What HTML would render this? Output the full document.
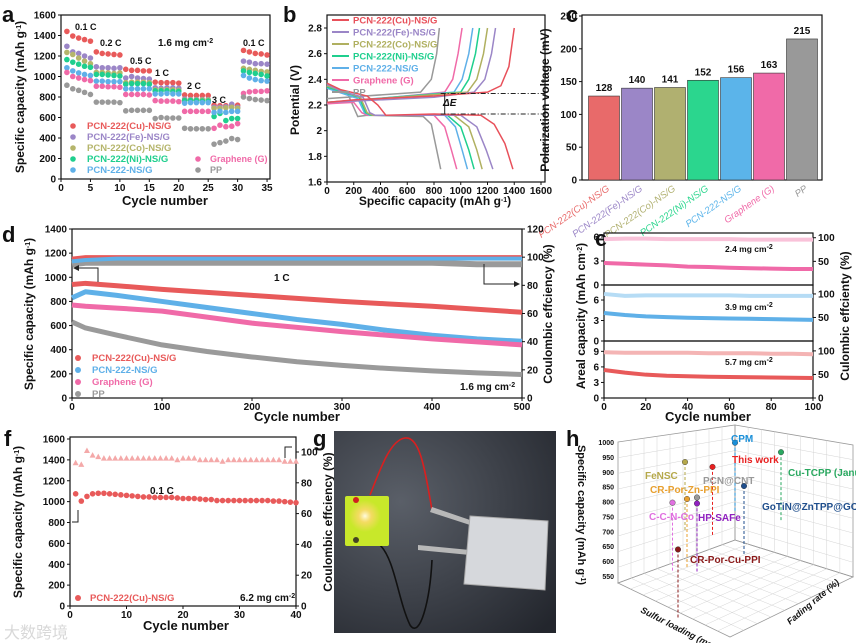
<!DOCTYPE html>
<html><head><meta charset="utf-8"><style>
html,body{margin:0;padding:0;background:#fff;}
svg{display:block;font-family:"Liberation Sans","Noto Sans CJK SC",sans-serif;}
</style></head><body>
<svg id="fig" width="856" height="643" viewBox="0 0 856 643" xmlns="http://www.w3.org/2000/svg"></svg>
<script>
// ---------- DATA ----------
const aCycles=[1,2,3,4,5,6,7,8,9,10,11,12,13,14,15,16,17,18,19,20,21,22,23,24,25,26,27,28,29,30,31,32,33,34,35];
const aCu=[1440,1395,1375,1360,1345,1240,1225,1220,1215,1210,1070,1060,1060,1055,1055,945,940,940,940,935,820,815,815,815,815,720,715,715,720,720,1255,1240,1225,1220,1210];
const aFe=[1295,1240,1225,1200,1180,1095,1085,1085,1080,1085,985,1000,985,980,975,890,885,890,890,885,780,775,775,775,775,700,700,705,730,700,1150,1140,1125,1125,1120];
const aCo=[1235,1215,1180,1150,1125,1040,1040,1035,1030,1035,940,945,945,945,940,870,870,870,870,865,770,770,770,770,770,690,690,695,700,690,1080,1070,1060,1050,1045];
const aNi=[1165,1140,1120,1100,1090,1020,1020,1015,1010,1005,925,930,930,930,925,860,860,860,855,855,765,765,765,760,760,610,640,570,590,590,1055,1040,1030,1020,1005];
const a222=[1085,1055,1035,1020,1010,955,955,950,950,950,880,880,880,880,880,830,830,835,830,830,740,745,745,745,745,650,660,650,660,660,1010,985,970,960,955];
const aG=[1040,1000,985,970,960,905,905,900,900,895,825,825,825,825,820,765,760,760,760,755,660,660,660,660,660,495,525,510,515,540,835,850,855,855,860];
const aPP=[915,880,865,845,825,750,750,750,750,745,665,670,670,670,670,590,600,595,595,595,495,490,490,490,490,340,355,370,395,385,800,785,775,770,765];
const aXTicks=[0,5,10,15,20,25,30,35];
const aYTicks=[0,200,400,600,800,1000,1200,1400,1600];

const bDis={
 Cu:[[0,2.37],[100,2.32],[300,2.27],[380,2.2],[440,2.12],[800,2.13],[1150,2.12],[1250,2.05],[1330,1.9],[1390,1.7]],
 Fe:[[0,2.36],[100,2.31],[270,2.26],[320,2.14],[360,2.12],[1000,2.12],[1120,2.03],[1190,1.85],[1240,1.7]],
 Co:[[0,2.35],[250,2.26],[300,2.14],[340,2.12],[950,2.12],[1060,2.03],[1120,1.85],[1160,1.7]],
 Ni:[[0,2.34],[240,2.26],[290,2.14],[330,2.12],[900,2.12],[1000,2.03],[1060,1.85],[1100,1.7]],
 N222:[[0,2.33],[230,2.25],[280,2.14],[320,2.12],[880,2.12],[960,2.03],[1010,1.85],[1050,1.7]],
 G:[[0,2.21],[200,2.22],[260,2.14],[300,2.12],[800,2.12],[880,2.03],[930,1.85],[970,1.7]],
 PP:[[0,2.35],[150,2.3],[230,2.11],[300,2.12],[720,2.11],[780,2.05],[820,1.85],[850,1.7]]};
const bCha={
 Cu:[[0,2.22],[200,2.24],[800,2.27],[1200,2.3],[1300,2.35],[1360,2.5],[1400,2.8]],
 Fe:[[0,2.22],[200,2.23],[800,2.26],[1100,2.3],[1180,2.4],[1230,2.6],[1260,2.8]],
 Co:[[0,2.22],[1050,2.3],[1120,2.4],[1170,2.6],[1200,2.8]],
 Ni:[[0,2.22],[1000,2.3],[1060,2.4],[1110,2.6],[1140,2.8]],
 N222:[[0,2.22],[950,2.3],[1010,2.4],[1060,2.6],[1090,2.8]],
 G:[[0,2.21],[880,2.3],[940,2.4],[980,2.6],[1010,2.8]],
 PP:[[0,2.25],[700,2.3],[780,2.4],[820,2.6],[840,2.8]]};
const bXTicks=[0,200,400,600,800,1000,1200,1400,1600];
const bYTicks=[1.6,1.8,2.0,2.2,2.4,2.6,2.8];

const cLabels=["PCN-222(Cu)-NS/G","PCN-222(Fe)-NS/G","PCN-222(Co)-NS/G","PCN-222(Ni)-NS/G","PCN-222-NS/G","Graphene (G)","PP"];
const cValues=[128,140,141,152,156,163,215];
const cYTicks=[0,50,100,150,200,250];

const dCycles=[0,15,50,100,150,200,250,300,350,400,450,500];
const dCu=[940,950,930,900,875,850,825,800,780,760,735,710];
const d222=[830,880,850,800,750,700,650,610,560,520,490,470];
const dG=[770,760,745,720,670,620,585,550,520,490,465,440];
const dPP=[630,580,520,440,385,340,300,270,245,225,208,195];
const dCECu=[99,100,100,100,100,100,100,100,100,100,100,100];
const dCE222=[97,98,99,99,99,99,99,99,99,99,99,99];
const dCEPP=[95,96,96,96,96,96,96,96,96,96,95,95];
const dXTicks=[0,100,200,300,400,500];
const dYTicks=[0,200,400,600,800,1000,1200,1400];
const dRTicks=[0,20,40,60,80,100,120];

const eCycles=[0,10,20,30,40,50,60,70,80,90,100];
const eCap1=[2.75,2.65,2.55,2.45,2.3,2.25,2.15,2.1,2.05,2.0,2.0];
const eCE1=[97,98,98,97,97,97,97,96,96,96,96];
const eCap2=[4.1,3.8,3.6,3.5,3.4,3.35,3.3,3.25,3.2,3.15,3.1];
const eCE2=[100,96,97,97,97,97,97,96,96,96,96];
const eCap3=[5.4,4.9,4.5,4.3,4.2,4.1,4.05,4.0,3.95,3.9,3.85];
const eCE3=[97,96,96,96,96,95,95,95,94,94,93];
const eXTicks=[0,20,40,60,80,100];

const fCycles=[1,2,3,4,5,6,7,8,9,10,11,12,13,14,15,16,17,18,19,20,21,22,23,24,25,26,27,28,29,30,31,32,33,34,35,36,37,38,39,40];
const fCap=[1075,1005,1050,1075,1080,1080,1075,1070,1065,1060,1055,1050,1045,1045,1040,1040,1040,1040,1035,1030,1030,1030,1025,1020,1020,1010,1010,1010,1010,1010,1010,1010,1010,1010,1010,1005,1005,1000,995,990];
const fCE=[93,92,101,98,97,96,96,96,96,96,96,96,96,96,96,96,96,96,95,96,96,96,95,95,95,95,94,95,95,95,95,95,95,95,95,95,95,94,94,94];
const fXTicks=[0,10,20,30,40];
const fYTicks=[0,200,400,600,800,1000,1200,1400,1600];
const fRTicks=[0,20,40,60,80,100];

const hNames=["CPM","This work","Cu-TCPP (Janus)","FeNSC","PCN@CNT","GoTiN@ZnTPP@GOTiN","CR-Por-Zn-PPI","C-C-N-Co","HP-SAFe","CR-Por-Cu-PPI"];
const hCap=[975,905,925,910,800,825,795,785,780,630];
const hLoad=[1.5,1.5,1.6,1.0,1.3,1.5,1.2,1.1,1.3,1.2];
const hFade=[0.10,0.05,0.18,0.10,0.06,0.12,0.06,0.05,0.06,0.04];

// ---------- HELPERS ----------
const NS='http://www.w3.org/2000/svg';
const svg=document.getElementById('fig');
function mk(tag,attrs,name,parent){
 const e=document.createElementNS(NS,tag);
 for(const k in attrs)e.setAttribute(k,attrs[k]);
 
 
 (parent||svg).appendChild(e);return e;}
function T(x,y,s,o,name){const e=mk('text',Object.assign({x:x,y:y,'font-size':10,'font-weight':'bold',fill:'#111'},o||{}),name);e.textContent=s;return e;}
function lin(d0,d1,r0,r1){return v=>r0+(v-d0)/(d1-d0)*(r1-r0);}
function box(x0,y0,x1,y1,name){mk('rect',{x:x0,y:y0,width:x1-x0,height:y1-y0,fill:'none',stroke:'#111','stroke-width':1.2},name);}
function xTicks(ticks,X,yb,name,fs){ticks.forEach(t=>{mk('line',{x1:X(t),x2:X(t),y1:yb,y2:yb+3,stroke:'#111'},name+'-tick');T(X(t),yb+12,String(t),{'text-anchor':'middle','font-size':fs||10},name+'-label');});}
function yTicks(ticks,Y,x,name,right,fs){ticks.forEach(t=>{mk('line',{x1:x,x2:right?x+3:x-3,y1:Y(t),y2:Y(t),stroke:'#111'},name+'-tick');T(right?x+5:x-5,Y(t)+3.5,Number.isInteger(t)?String(t):t.toFixed(1),{'text-anchor':right?'start':'end','font-size':fs||10},name+'-label');});}
function vtitle(x,y,s,name,fs){const e=T(x,y,'',{'text-anchor':'middle','font-size':fs||12,transform:`rotate(-90 ${x} ${y})`},name);e.innerHTML=s;return e;}
function plabel(x,y,s){T(x,y,s,{'font-size':22,'font-weight':'bold'},'panel-label-'+s);}
function poly(pts,X,Y,o,name){return mk('polyline',Object.assign({points:pts.map(p=>X(p[0])+','+Y(p[1])).join(' '),fill:'none'},o),name);}
const sup=s=>`<tspan baseline-shift="super" font-size="7">${s}</tspan>`;

// ---------- PANEL A ----------
(function(){
 const X=lin(0,35.5,61,270),Y=lin(0,1600,179,15);
 plabel(2,22,'a');
 box(61,15,270,179,'panel-a-frame');
 xTicks(aXTicks,X,179,'a-x');yTicks(aYTicks,Y,61,'a-y');
 T(165,205,'Cycle number',{'text-anchor':'middle','font-size':13},'a-x-title');
 vtitle(24,97,'Specific capacity (mAh g'+sup('-1')+')','a-y-title',12);
 const ser=[[aCu,'#e85a5a','PCN-222(Cu)-NS/G'],[aFe,'#9b86c7','PCN-222(Fe)-NS/G'],[aCo,'#b5b56b','PCN-222(Co)-NS/G'],[aNi,'#1fcf8e','PCN-222(Ni)-NS/G'],[a222,'#5fb0e8','PCN-222-NS/G'],[aG,'#f06aa8','Graphene (G)'],[aPP,'#999999','PP']];
 ser.forEach((s,i)=>{s[0].forEach((v,j)=>mk('circle',{cx:X(aCycles[j]),cy:Y(v),r:2.8,fill:s[1]},'a-point'));
  const lx=i<5?73:198,ly=i<5?129+i*11:162+(i-5)*11;
  mk('circle',{cx:lx,cy:ly-3,r:2.8,fill:s[1]},'a-legend-marker');
  T(lx+(i<5?14:12),ly,s[2],{fill:s[1],'font-size':i<5?9.5:9},'a-legend-entry');});
 [['0.1 C',75,30],['0.2 C',100,46],['0.5 C',130,64],['1 C',155,76],['2 C',187,89],['3 C',212,103],['0.1 C',243,46]].forEach(r=>T(r[1],r[2],r[0],{'font-size':9},'a-rate-label'));
 T(158,46,'',{'font-size':10},'a-loading').innerHTML='1.6 mg cm'+sup('-2');
})();

// ---------- PANEL B ----------
(function(){
 const X=lin(0,1600,327,541),Y=lin(1.6,2.8,182,28);
 plabel(283,22,'b');
 box(327,15,545,182,'panel-b-frame');
 xTicks(bXTicks,X,182,'b-x');yTicks(bYTicks,Y,327,'b-y');
 T(435,205,'',{'text-anchor':'middle','font-size':12},'b-x-title').innerHTML='Specific capacity (mAh g'+sup('-1')+')';
 vtitle(299,100,'Potential (V)','b-y-title',12);
 const keys=[['Cu','#e8505a','PCN-222(Cu)-NS/G'],['Fe','#9b86c7','PCN-222(Fe)-NS/G'],['Co','#b0b060','PCN-222(Co)-NS/G'],['Ni','#1fcf8e','PCN-222(Ni)-NS/G'],['N222','#5fb0e8','PCN-222-NS/G'],['G','#f06aa8','Graphene (G)'],['PP','#999999','PP']];
 keys.slice().reverse().forEach(k=>{poly(bDis[k[0]],X,Y,{stroke:k[1],'stroke-width':1.5},'b-discharge-curve');poly(bCha[k[0]],X,Y,{stroke:k[1],'stroke-width':1.5},'b-charge-curve');});
 keys.forEach((k,i)=>{const y=20+i*12;mk('line',{x1:332,x2:349,y1:y,y2:y,stroke:k[1],'stroke-width':2},'b-legend-line');T(353,y+3.5,k[2],{fill:k[1],'font-size':9.5},'b-legend-entry');});
 mk('line',{x1:X(850),x2:545,y1:Y(2.29),y2:Y(2.29),stroke:'#222','stroke-dasharray':'5,2,1,2'},'b-dE-line-top');
 mk('line',{x1:X(850),x2:545,y1:Y(2.13),y2:Y(2.13),stroke:'#222','stroke-dasharray':'5,2,1,2'},'b-dE-line-bottom');
 mk('line',{x1:X(880),x2:X(880),y1:Y(2.29),y2:Y(2.13),stroke:'#222'},'b-dE-arrow');
 T(443,106,'ΔE',{'font-size':10,'font-style':'italic'},'b-dE-label');
})();

// ---------- PANEL C ----------
(function(){
 const Y=lin(0,250,180,16),cols=['#e86a6a','#9b86c7','#b0b070','#2bd68e','#5bb4ea','#f06aa8','#999999'];
 plabel(566,22,'c');
 box(582,15,822,180,'panel-c-frame');
 yTicks(cYTicks,Y,582,'c-y');
 vtitle(549,100,'Polarization voltage (mV)','c-y-title',12);
 cValues.forEach((v,i)=>{const cx=604+i*33;
  mk('rect',{x:cx-15.5,y:Y(v),width:31,height:180-Y(v),fill:cols[i],stroke:'#333','stroke-width':0.6},'c-bar-'+i);
  T(cx,Y(v)-5,String(v),{'text-anchor':'middle','font-size':10},'c-bar-value');
  T(cx+6,190,cLabels[i],{'text-anchor':'end','font-size':9.5,'font-weight':'normal','font-style':'italic',fill:cols[i],transform:`rotate(-35 ${cx+6} 190)`},'c-x-label');});
})();

// ---------- PANEL D ----------
(function(){
 const X=lin(0,500,72,522),Y=lin(0,1400,398,229),R=lin(0,120,398,229);
 plabel(2,242,'d');
 box(72,229,522,398,'panel-d-frame');
 xTicks(dXTicks,X,398,'d-x');yTicks(dYTicks,Y,72,'d-y');yTicks(dRTicks,R,522,'d-yr',true);
 T(297,421,'Cycle number',{'text-anchor':'middle','font-size':13},'d-x-title');
 vtitle(33,314,'Specific capacity (mAh g'+sup('-1')+')','d-y-title',12);
 vtitle(552,314,'Coulombic effciency (%)','d-y2-title',12);
 const pts=(xs,ys)=>xs.map((x,i)=>[x,ys[i]]);
 poly(pts(dCycles,dCEPP),X,R,{stroke:'#9a9a9a','stroke-width':6},'d-ce-pp');
 poly(pts(dCycles,dCECu),X,R,{stroke:'#e85a5a','stroke-width':4},'d-ce-cu');
 poly(pts(dCycles,dCE222),X,R,{stroke:'#5fb0e8','stroke-width':4},'d-ce-222');
 [[dCu,'#e85a5a'],[d222,'#5fb0e8'],[dG,'#f06aa8'],[dPP,'#9a9a9a']].forEach(s=>poly(pts(dCycles,s[0]),X,Y,{stroke:s[1],'stroke-width':5,'stroke-linejoin':'round'},'d-capacity-series'));
 T(274,281,'1 C',{'font-size':10},'d-rate-label');
 mk('polyline',{points:'98,282 98,268 78,268',fill:'none',stroke:'#222'},'d-left-arrow');
 mk('polygon',{points:'73,268 79,265 79,271',fill:'#222'},'d-left-arrowhead');
 mk('polyline',{points:'484,264 484,284 515,284',fill:'none',stroke:'#222'},'d-right-arrow');
 mk('polygon',{points:'520,284 514,281 514,287',fill:'#222'},'d-right-arrowhead');
 T(460,390,'',{'font-size':10},'d-loading').innerHTML='1.6 mg cm'+sup('-2');
 [['PCN-222(Cu)-NS/G','#e85a5a'],['PCN-222-NS/G','#5fb0e8'],['Graphene (G)','#f06aa8'],['PP','#9a9a9a']].forEach((l,i)=>{const y=361+i*12;
  mk('circle',{cx:78,cy:y-3,r:3,fill:l[1]},'d-legend-marker');T(92,y,l[0],{fill:l[1],'font-size':9.5},'d-legend-entry');});
})();

// ---------- PANEL E ----------
(function(){
 const X=lin(0,100,604,813);
 plabel(595,246,'e');
 const subs=[[233,285,6.5,110,eCap1,eCE1,'#f06aa8','#f9c2d9','2.4',[0,3,6]],[285,341,8.2,119,eCap2,eCE2,'#5fb0e8','#b6dcf5','3.9',[0,3,6]],[341,398,11.0,121,eCap3,eCE3,'#e85a5a','#f4b4b4','5.7',[0,3,6,9]]];
 subs.forEach((s,k)=>{const Y=lin(0,s[2],s[1],s[0]),R=lin(0,s[3],s[1],s[0]);
  box(604,s[0],813,s[1],'e-subplot-frame');
  yTicks(s[9],Y,604,'e-y');
  yTicks(k==2?[0,50,100]:[50,100],R,813,'e-yr',true);
  const pts=(ys)=>eCycles.map((x,i)=>[x,ys[i]]);
  poly(pts(s[5]),X,R,{stroke:s[7],'stroke-width':4},'e-ce-series');
  poly(pts(s[4]),X,Y,{stroke:s[6],'stroke-width':4},'e-capacity-series');
  T(725,s[0]+[19,25,24][k],'',{'font-size':8.5},'e-loading').innerHTML=s[8]+' mg cm'+sup('-2');});
 xTicks(eXTicks,X,398,'e-x');
 T(708,421,'Cycle number',{'text-anchor':'middle','font-size':13},'e-x-title');
 vtitle(585,316,'Areal capacity (mAh cm'+sup('-2')+')','e-y-title',12);
 vtitle(849,316,'Culombic effcienty (%)','e-y2-title',12);
})();

// ---------- PANEL F ----------
(function(){
 const X=lin(0,40,70,296),Y=lin(0,1600,606,439),R=lin(0,100,606,452);
 plabel(4,446,'f');
 box(70,437,296,606,'panel-f-frame');
 xTicks(fXTicks,X,606,'f-x');yTicks(fYTicks,Y,70,'f-y');yTicks(fRTicks,R,296,'f-yr',true);
 T(186,630,'Cycle number',{'text-anchor':'middle','font-size':13},'f-x-title');
 vtitle(22,522,'Specific capacity (mAh g'+sup('-1')+')','f-y-title',12);
 vtitle(332,522,'Coulombic effciency (%)','f-y2-title',12);
 fCE.forEach((v,i)=>{const x=X(fCycles[i]),y=R(v);mk('polygon',{points:`${x-3},${y+2.5} ${x+3},${y+2.5} ${x},${y-3}`,fill:'#f4a9a9'},'f-ce-point');});
 fCap.forEach((v,i)=>mk('circle',{cx:X(fCycles[i]),cy:Y(v),r:2.8,fill:'#e85a5a'},'f-capacity-point'));
 T(150,494,'0.1 C',{'font-size':10},'f-rate-label');
 mk('polyline',{points:'78,510 78,522 72,522',fill:'none',stroke:'#222'},'f-left-arrow');
 mk('polyline',{points:'285,458 285,447 292,447',fill:'none',stroke:'#222'},'f-right-arrow');
 mk('circle',{cx:78,cy:598,r:3,fill:'#e85a5a'},'f-legend-marker');
 T(90,601,'PCN-222(Cu)-NS/G',{fill:'#e85a5a','font-size':9.5},'f-legend-entry');
 T(240,601,'',{'font-size':10},'f-loading').innerHTML='6.2 mg cm'+sup('-2');
 T(4,638,'大数跨境',{'font-size':16,'font-weight':'normal',fill:'#d8d8d8'},'watermark');
})();

// ---------- PANEL G (photo) ----------
(function(){
 plabel(313,446,'g');
 const defs=mk('defs',{},'g-defs');
 const gr=mk('radialGradient',{id:'bg',cx:'0.3',cy:'0.35',r:'0.9'},'g-bg-gradient',defs);
 mk('stop',{offset:'0','stop-color':'#5a5f68'},'g-stop',gr);mk('stop',{offset:'1','stop-color':'#23262d'},'g-stop',gr);
 const gl=mk('radialGradient',{id:'glow'},'g-glow-gradient',defs);
 mk('stop',{offset:'0','stop-color':'#fffbe0'},'g-stop',gl);mk('stop',{offset:'0.4','stop-color':'#ffd870','stop-opacity':0.8},'g-stop',gl);mk('stop',{offset:'1','stop-color':'#ffd870','stop-opacity':0},'g-stop',gl);
 mk('rect',{x:334,y:431,width:222,height:202,fill:'url(#bg)'},'g-photo-background');
 mk('path',{d:'M370 495 C 380 470, 390 440, 405 438 C 420 436, 425 470, 432 510',fill:'none',stroke:'#d82020','stroke-width':1.6},'g-red-wire');
 mk('path',{d:'M380 545 C 395 560, 398 600, 410 625 C 420 640, 430 600, 432 560',fill:'none',stroke:'#111','stroke-width':1.6},'g-black-wire');
 mk('rect',{x:345,y:496,width:44,height:50,fill:'#c8e82a',rx:2},'g-led-board');
 mk('circle',{cx:365,cy:516,r:16,fill:'url(#glow)'},'g-led-glow');
 mk('circle',{cx:356,cy:500,r:3,fill:'#d02020'},'g-red-terminal');
 mk('circle',{cx:356,cy:540,r:3,fill:'#442'},'g-black-terminal');
 mk('polygon',{points:'432,507 470,520 470,525 430,512',fill:'#b8b8b8'},'g-tab-top');
 mk('polygon',{points:'418,545 470,550 470,555 418,550',fill:'#b8b8b8'},'g-tab-bottom');
 mk('polygon',{points:'470,516 548,521 545,590 464,584',fill:'#d6d8dc',stroke:'#aaa'},'g-pouch-cell');
})();

// ---------- PANEL H (3D scatter) ----------
(function(){
 plabel(566,446,'h');
 const Y=lin(550,1000,576,442);
 const grid='#d4d4d4';
 mk('polygon',{points:'618,442 735,425 735,540 618,583',fill:'none',stroke:'#999','stroke-width':0.8},'h-left-wall');
 mk('polygon',{points:'735,425 853,445 853,577 735,540',fill:'none',stroke:'#999','stroke-width':0.8},'h-right-wall');
 mk('polygon',{points:'618,583 735,540 853,577 730,637',fill:'none',stroke:'#999','stroke-width':0.8},'h-floor');
 for(let i=1;i<9;i++){const t=i/9;
  mk('line',{x1:618,y1:442+141*t,x2:735,y2:425+115*t,stroke:grid,'stroke-width':0.5},'h-grid');
  mk('line',{x1:735,y1:425+115*t,x2:853,y2:445+132*t,stroke:grid,'stroke-width':0.5},'h-grid');
  mk('line',{x1:618+117*t,y1:442-17*t,x2:618+117*t,y2:583-43*t,stroke:grid,'stroke-width':0.5},'h-grid');
  mk('line',{x1:735+118*t,y1:425+20*t,x2:735+118*t,y2:540+37*t,stroke:grid,'stroke-width':0.5},'h-grid');
  mk('line',{x1:618+112*t,y1:583+54*t,x2:735+118*t,y2:540+37*t,stroke:grid,'stroke-width':0.5},'h-grid');
  mk('line',{x1:735-117*t,y1:540+43*t,x2:853-123*t,y2:577+60*t,stroke:grid,'stroke-width':0.5},'h-grid');}
 [550,600,650,700,750,800,850,900,950,1000].forEach(v=>T(614,Y(v)+3,String(v),{'text-anchor':'end','font-size':7},'h-y-tick-label'));
 const ht=T(578,515,'',{'text-anchor':'middle','font-size':11,transform:'rotate(90 578 515)'},'h-y-title');ht.innerHTML='Specific capacity (mAh g'+sup('-1')+')';
 T(640,612,'Sulfur loading (mg cm⁻²)',{'font-size':9,'font-style':'italic',transform:'rotate(27 640 612)'},'h-x-title');
 T(790,625,'Fading rate (%)',{'font-size':9,'font-style':'italic',transform:'rotate(-40 790 625)'},'h-z-title');
 const cols=['#1a8fd8','#e82020','#2aa860','#b5a84a','#999999','#1f4e8c','#e8a030','#e070e0','#9020c0','#8b1a1a'];
 const LX=lin(1.0,1.6,640,700),FZ=lin(0,0.2,0,90);
 const lab=[[731,442],[732,463],[788,476],[645,479],[703,484],[762,510],[650,493],[649,520],[698,521],[690,563]];
 hNames.forEach((n,i)=>{const px=LX(hLoad[i])+FZ(hFade[i]),py=Y(hCap[i])-FZ(hFade[i])*0.15;
  mk('line',{x1:px,y1:py,x2:px,y2:py+70,stroke:cols[i],'stroke-dasharray':'3,2','stroke-width':1},'h-drop-line');
  mk('circle',{cx:px,cy:py,r:2.8,fill:cols[i],stroke:'#333','stroke-width':0.4},'h-point');
  T(lab[i][0],lab[i][1],n,{fill:cols[i],'font-size':10},'h-point-label');});
})();
</script>
</body></html>
